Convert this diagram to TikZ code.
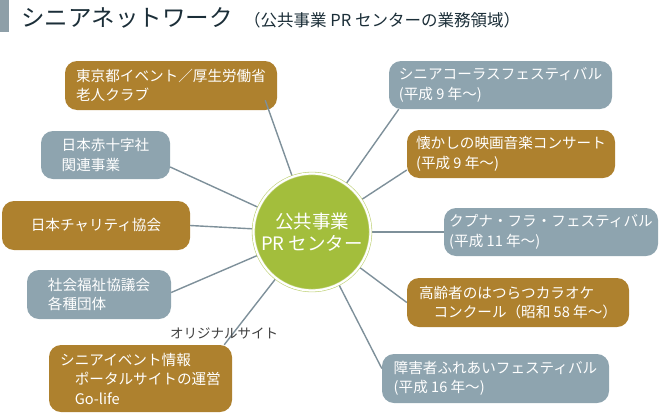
\documentclass[tikz,border=0pt]{standalone}
\usepackage{fontspec}
\setmainfont{Noto Sans CJK JP}
\usepackage{tikz}
\usetikzlibrary{positioning}

\definecolor{brownbox}{HTML}{AE812E}
\definecolor{graybox}{HTML}{8EA4AF}
\definecolor{hubgreen}{HTML}{A3BE3C}
\definecolor{linkgray}{HTML}{7E909A}
\definecolor{titleink}{HTML}{1B2E38}
\definecolor{barbox}{HTML}{8E9FA8}

\begin{document}
\begin{tikzpicture}[
    x=1pt, y=-1pt,
    event/.style = {rectangle, rounded corners=12pt, align=left, text=white, inner sep=0pt,
        font=\fontsize{14.6}{19.5}\selectfont},
    brownevent/.style = {event, fill=brownbox},
    grayevent/.style = {event, fill=graybox},
    hub/.style = {circle, fill=hubgreen, draw=hubgreen!70, double=white, double distance=2.2pt,
        line width=0.6pt, minimum size=114pt, align=center, text=white,
        font=\fontsize{18.5}{22}\selectfont},
    link/.style = {draw=linkgray, line width=1.4pt}]

    \useasboundingbox (0,0) rectangle (660,415);
    \fill[barbox] (0,0) rectangle (9,32);
    \node[anchor=west, text=titleink, font=\fontsize{23.5}{25}\selectfont, inner sep=0pt] (title) at (21,18) {シニアネットワーク};
    \node[anchor=west, text=titleink, font=\fontsize{16.5}{18}\selectfont, inner sep=0pt] (subtitle) at (244,20) {（公共事業 PR センターの業務領域）};

    % left side
    \node[brownevent, minimum width=212pt, minimum height=49pt] (b1) at (171,85.5) {東京都イベント／厚生労働省\\老人クラブ};
    \node[grayevent, minimum width=129pt, minimum height=48pt] (b2) at (105.5,155) {日本赤十字社\\関連事業};
    \node[brownevent, minimum width=188pt, minimum height=49pt] (b3) at (96,225.5) {日本チャリティ協会};
    \node[grayevent, minimum width=144pt, minimum height=49pt] (b4) at (99,294.5) {社会福祉協議会\\各種団体};
    \node[brownevent, minimum width=183pt, minimum height=67pt] (b5) at (140.5,378.5) {シニアイベント情報\\　ポータルサイトの運営\\　Go-life};

    % right side
    \node[grayevent, minimum width=223pt, minimum height=48pt] (b6) at (500.5,85) {シニアコーラスフェスティバル\\(平成 9 年〜)};
    \node[brownevent, minimum width=208pt, minimum height=48pt] (b7) at (511,154) {懐かしの映画音楽コンサート\\(平成 9 年〜)};
    \node[grayevent, minimum width=214pt, minimum height=48pt] (b8) at (551,232) {クプナ・フラ・フェスティバル\\(平成 11 年〜)};
    \node[brownevent, minimum width=222pt, minimum height=49pt] (b9) at (518,302.5) {高齢者のはつらつカラオケ\\　コンクール（昭和 58 年〜）};
    \node[grayevent, minimum width=227pt, minimum height=49pt] (b10) at (495.5,378.5) {障害者ふれあいフェスティバル\\(平成 16 年〜)};

    % spokes
    \coordinate (c) at (312,232);
    \draw[link] (c) -- ([xshift=-12pt,yshift=10pt]b1.south east);
    \draw[link] (c) -- ([yshift=-12pt]b2.east);
    \draw[link] (c) -- (b3.east);
    \draw[link] (c) -- ([yshift=2pt]b4.east);
    \draw[link] (c) -- ([xshift=-8pt]b5.north east);
    \draw[link] (c) -- ([xshift=10pt]b6.south west);
    \draw[link] (c) -- ([yshift=-16pt]b7.west);
    \draw[link] (c) -- (b8.west);
    \draw[link] (c) -- (b9.west);
    \draw[link] (c) -- ([yshift=10pt]b10.west);

    \node[hub] (hub) at (c) {公共事業\\PR センター};
    \node[text=black!75, font=\fontsize{13.5}{15}\selectfont, inner sep=0pt] (orig) at (224,333) {オリジナルサイト};
\end{tikzpicture}
\end{document}
